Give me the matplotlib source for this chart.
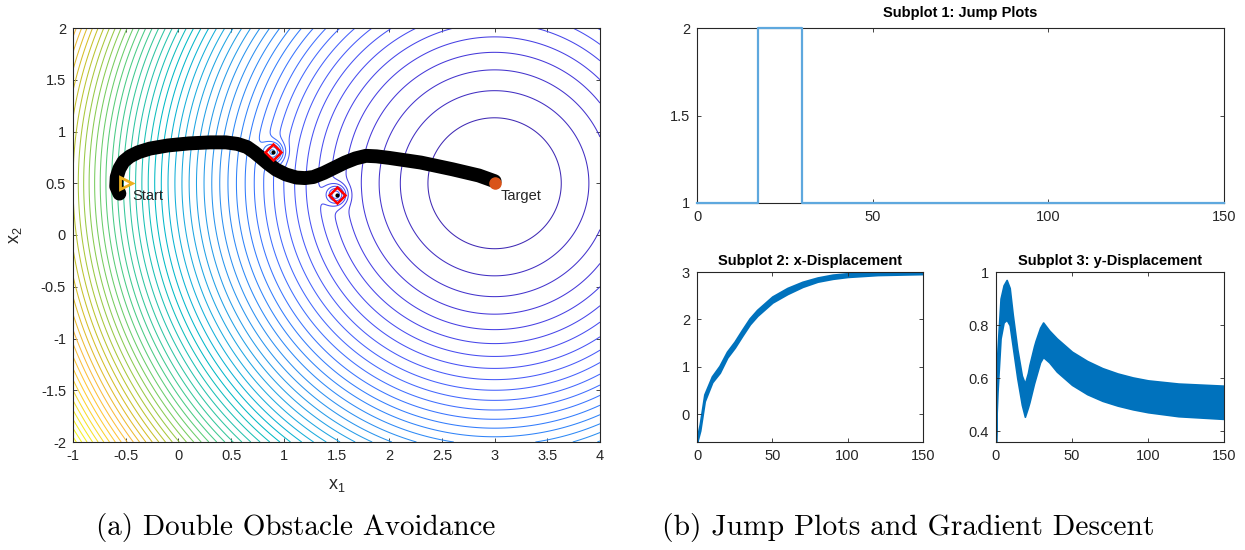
import numpy as np
import matplotlib
matplotlib.use("Agg")
import matplotlib.pyplot as plt
from matplotlib.colors import LinearSegmentedColormap, Normalize

# ---------------- data ----------------
target = (3.0, 0.5)
obstacles_x = [0.9, 1.5]
obstacles_y = [0.8, 0.39]
start = (-0.5, 0.5)

path_x = [-0.56, -0.59, -0.585, -0.56, -0.52, -0.46, -0.38, -0.27, -0.10, 0.10, 0.30,
          0.45, 0.56, 0.65, 0.72, 0.78, 0.85, 0.93, 1.02, 1.12, 1.20, 1.28, 1.38,
          1.48, 1.58, 1.68, 1.78, 1.88, 2.00, 2.30, 2.60, 2.85, 3.00]
path_y = [0.40, 0.47, 0.56, 0.64, 0.71, 0.76, 0.80, 0.835, 0.865, 0.885, 0.895,
          0.895, 0.88, 0.85, 0.80, 0.75, 0.69, 0.63, 0.585, 0.555, 0.55, 0.56, 0.60,
          0.65, 0.70, 0.74, 0.765, 0.76, 0.745, 0.70, 0.635, 0.575, 0.52]

jump_t = [0, 17.5, 17.5, 30, 30, 150]
jump_q = [1, 1, 2, 2, 1, 1]

xd_t = [0, 2, 5, 10, 15, 20, 25, 30, 35, 40, 50, 60, 70, 80, 90, 100, 120, 150]
xd_hi = [-0.50, -0.20, 0.42, 0.80, 1.02, 1.32, 1.53, 1.78, 2.02, 2.20, 2.48, 2.66,
         2.79, 2.88, 2.94, 2.97, 3.00, 3.01]
xd_lo = [-0.58, -0.34, 0.28, 0.68, 0.88, 1.20, 1.41, 1.66, 1.90, 2.08, 2.36, 2.54,
         2.69, 2.80, 2.86, 2.90, 2.94, 2.96]

yd_t = [0, 0.3, 1, 3, 5, 7, 9, 11, 14, 17, 19, 21, 22, 25, 26, 29, 31, 35, 40, 50,
        60, 70, 80, 90, 100, 120, 150]
yd_hi = [0.36, 0.62, 0.71, 0.90, 0.95, 0.97, 0.94, 0.84, 0.71, 0.61, 0.58, 0.62,
         0.65, 0.72, 0.74, 0.79, 0.81, 0.78, 0.75, 0.70, 0.665, 0.638, 0.618, 0.603,
         0.592, 0.580, 0.572]
yd_lo = [0.36, 0.45, 0.55, 0.75, 0.81, 0.82, 0.80, 0.72, 0.60, 0.50, 0.455, 0.49,
         0.51, 0.58, 0.60, 0.66, 0.68, 0.66, 0.625, 0.575, 0.54, 0.515, 0.497, 0.483,
         0.472, 0.457, 0.447]

# potential-field parameters
bump_height = 2.0
bump_width = 0.065
level_step = 0.4

# ---------------- style ----------------
parula_rgb = [
    (0.2422, 0.1504, 0.6603), (0.2578, 0.1818, 0.7511), (0.2706, 0.2147, 0.8364),
    (0.2783, 0.2559, 0.8991), (0.2813, 0.3006, 0.9414), (0.2795, 0.3447, 0.9717),
    (0.2699, 0.3892, 0.9906), (0.2440, 0.4358, 0.9988), (0.1963, 0.4847, 0.9892),
    (0.1786, 0.5289, 0.9682), (0.1687, 0.5703, 0.9359), (0.1460, 0.6091, 0.9079),
    (0.1248, 0.6459, 0.8883), (0.0952, 0.6798, 0.8598), (0.0297, 0.7082, 0.8163),
    (0.0067, 0.7312, 0.7660), (0.0964, 0.7500, 0.7120), (0.1717, 0.7670, 0.6554),
    (0.2161, 0.7843, 0.5923), (0.2906, 0.7973, 0.5188), (0.3909, 0.8029, 0.4354),
    (0.5044, 0.7993, 0.3480), (0.6174, 0.7876, 0.2612), (0.7242, 0.7698, 0.1910),
    (0.8203, 0.7498, 0.1535), (0.9035, 0.7330, 0.1774), (0.9728, 0.7298, 0.2394),
    (0.9970, 0.7659, 0.2199), (0.9892, 0.8136, 0.1885), (0.9676, 0.8639, 0.1643),
    (0.9597, 0.9135, 0.1423), (0.9691, 0.9606, 0.1064), (0.9769, 0.9839, 0.0805)]
parula = LinearSegmentedColormap.from_list("parula", parula_rgb)

plt.rcParams['font.family'] = ['Liberation Sans', 'DejaVu Sans']
plt.rcParams['mathtext.fontset'] = 'custom'
plt.rcParams['mathtext.rm'] = 'Liberation Sans'
plt.rcParams['mathtext.it'] = 'Liberation Sans'
tick_col = '#262626'
blue = '#0072BD'

fig = plt.figure(figsize=(12.45, 5.5), dpi=100)
W, H = 1245, 550

def add_ax(l, t, r, b):
    return fig.add_axes([l / W, 1 - b / H, (r - l) / W, (b - t) / H])

def style(ax):
    ax.tick_params(direction='in', length=3, width=0.6, colors=tick_col,
                   labelsize=10.5, top=True, right=True, labeltop=False,
                   labelright=False, pad=5)
    for s in ax.spines.values():
        s.set_linewidth(0.8)
        s.set_color(tick_col)

# ---------------- left plot ----------------
ax = add_ax(73, 28, 600, 442)
gx = np.linspace(-1, 4, 800)
gy = np.linspace(-2, 2, 640)
X, Y = np.meshgrid(gx, gy)
F = (X - target[0]) ** 2 + (Y - target[1]) ** 2
vmax = F.max()
for ox, oy in zip(obstacles_x, obstacles_y):
    F += bump_height * np.exp(-((X - ox) ** 2 + (Y - oy) ** 2) / (2 * bump_width ** 2))
levels = np.arange(level_step, vmax, level_step)
ax.contour(X, Y, F, levels=levels, cmap=parula, linewidths=0.75,
           norm=Normalize(vmin=0, vmax=vmax))
ax.plot(path_x, path_y, color='black', lw=10, solid_capstyle='round',
        solid_joinstyle='round', zorder=3)
ax.plot(obstacles_x, obstacles_y, 'D', mfc='none', mec='red', mew=1.8, ms=8, zorder=4)
ax.plot(obstacles_x, obstacles_y, 'o', color='black', ms=2, zorder=5)
ax.plot([start[0]], [start[1]], '>', mfc='none', mec='#EDB120', mew=2, ms=8, zorder=4)
ax.plot([target[0]], [target[1]], 'o', color='#D95319', ms=8, zorder=4)
ax.text(start[0] + 0.06, start[1] - 0.12, 'Start', fontsize=10.5, color=tick_col,
        va='center', ha='left', zorder=5)
ax.text(target[0] + 0.06, target[1] - 0.12, 'Target', fontsize=10.5, color=tick_col,
        va='center', ha='left', zorder=5)
ax.set_xlim(-1, 4)
ax.set_ylim(-2, 2)
ax.set_xticks(np.arange(-1, 4.01, 0.5))
ax.set_yticks(np.arange(-2, 2.01, 0.5))
ax.set_xticklabels(['-1', '-0.5', '0', '0.5', '1', '1.5', '2', '2.5', '3', '3.5', '4'])
ax.set_yticklabels(['-2', '-1.5', '-1', '-0.5', '0', '0.5', '1', '1.5', '2'])
style(ax)
ax.set_xlabel('x$_1$', fontsize=13, color=tick_col, labelpad=10)
ax.set_ylabel('x$_2$', fontsize=13, color=tick_col, labelpad=12)

# ---------------- jump plot ----------------
a1 = add_ax(697, 28, 1224, 203)
a1.plot(jump_t, jump_q, color='#5EA8DE', lw=1.6, clip_on=False, zorder=5)
a1.set_xlim(0, 150)
a1.set_ylim(1, 2)
a1.set_xticks([0, 50, 100, 150])
a1.set_yticks([1, 1.5, 2])
a1.set_yticklabels(['1', '1.5', '2'])
style(a1)
a1.set_title('Subplot 1: Jump Plots', fontsize=10.5, fontweight='bold', pad=8)

# ---------------- x displacement ----------------
a2 = add_ax(697, 272, 923, 442)
a2.fill_between(xd_t, xd_lo, xd_hi, color=blue, lw=1.5, edgecolor=blue)
a2.set_xlim(0, 150)
a2.set_ylim(-0.58, 3)
a2.set_xticks([0, 50, 100, 150])
a2.set_yticks([0, 1, 2, 3])
style(a2)
a2.set_title('Subplot 2: x-Displacement', fontsize=10.5, fontweight='bold', pad=5)

# ---------------- y displacement ----------------
a3 = add_ax(996, 272, 1224, 442)
a3.fill_between(yd_t, yd_lo, yd_hi, color=blue, lw=1.2, edgecolor=blue)
a3.set_xlim(0, 150)
a3.set_ylim(0.36, 1.0)
a3.set_xticks([0, 50, 100, 150])
a3.set_yticks([0.4, 0.6, 0.8, 1.0])
a3.set_yticklabels(['0.4', '0.6', '0.8', '1'])
style(a3)
a3.set_title('Subplot 3: y-Displacement', fontsize=10.5, fontweight='bold', pad=5)

# ---------------- captions ----------------
fig.text(296 / W, 1 - 528 / H, '(a) Double Obstacle Avoidance', family='cmr10',
         fontsize=21, ha='center', va='center')
fig.text(908 / W, 1 - 528 / H, '(b) Jump Plots and Gradient Descent', family='cmr10',
         fontsize=21.3, ha='center', va='center')

fig.savefig('out.png', dpi=100, facecolor='white')
